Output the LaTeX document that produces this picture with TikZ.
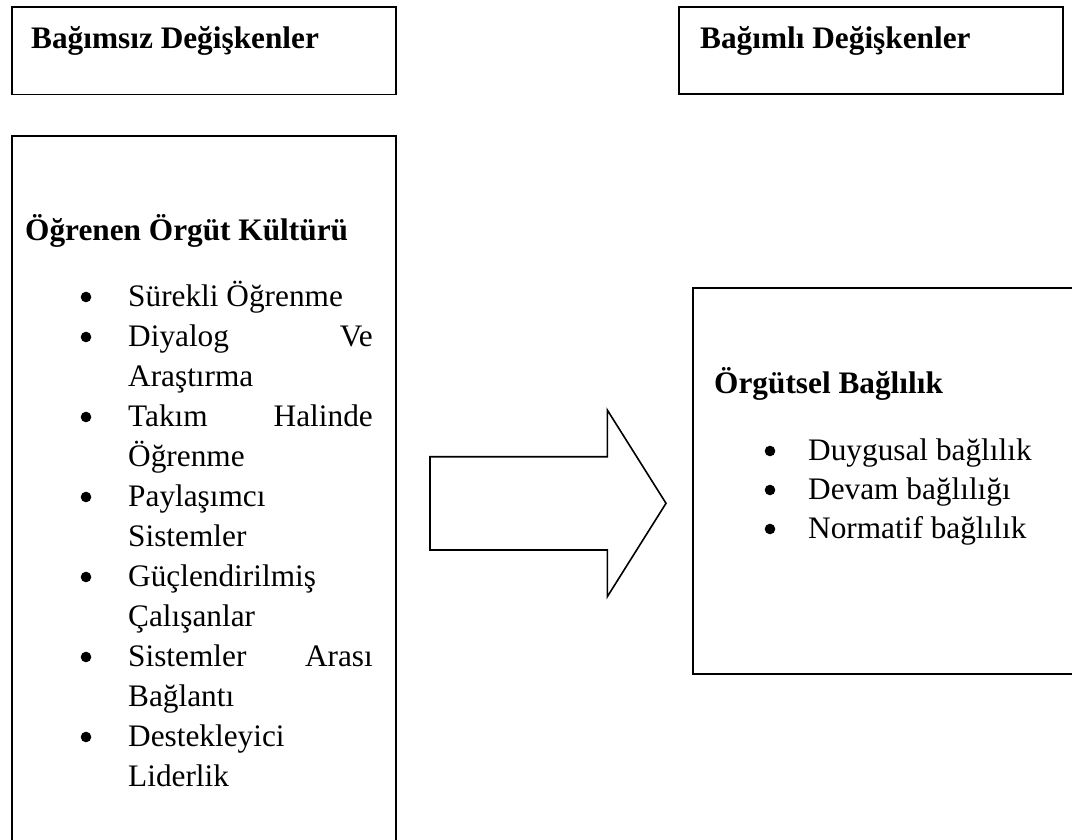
\documentclass[tikz,border=0pt]{standalone}
\usepackage{fontspec}
\setmainfont{Liberation Serif}
\begin{document}
\begin{tikzpicture}[x=1pt,y=-1pt,
  frame/.style={draw=black,line width=1.6pt,inner sep=0pt,anchor=north west},
  txt/.style={inner sep=0pt,anchor=base west,font=\fontsize{31.3}{40}\selectfont},
  txtr/.style={txt,anchor=base east},
  head/.style={txt,font=\fontsize{31.3}{40}\selectfont\bfseries},
  dot/.style={circle,fill=black,inner sep=0pt,minimum size=10.6pt},
  blockarrow/.style={draw=black,line width=1.6pt,line join=miter,fill=white}]
\clip (0,0) rectangle (1072,839);
\fill[white] (0,0) rectangle (1072,839);

% frames
\node[frame,minimum width=384,minimum height=87.5] (indep) at (11,6) {};
\node[frame,minimum width=384,minimum height=87] (dep) at (678,6) {};
\node[frame,minimum width=384,minimum height=725] (culture) at (11,135) {};
\node[frame,minimum width=393,minimum height=386] (commit) at (692,287) {};

% headings
\node[head] (hIndep) at (31,48) {Bağımsız Değişkenler};
\node[head] (hDep) at (700,48) {Bağımlı Değişkenler};
\node[head] (hCulture) at (25,240) {Öğrenen Örgüt Kültürü};
\node[head] (hCommit) at (714,393) {Örgütsel Bağlılık};

% learning organisation culture items (bullet centres sit 9pt above the baseline)
\node[dot] (b1) at (86,297) {};
\node[txt] (i1) at (128,306) {Sürekli Öğrenme};
\node[dot] (b2) at (86,337) {};
\node[txt] (i2a) at (128,346) {Diyalog};
\node[txtr] (i2b) at (373,346) {Ve};
\node[txt] (i2c) at (128,386) {Araştırma};
\node[dot] (b3) at (86,417) {};
\node[txt] (i3a) at (128,426) {Takım};
\node[txtr] (i3b) at (373,426) {Halinde};
\node[txt] (i3c) at (128,466) {Öğrenme};
\node[dot] (b4) at (86,497) {};
\node[txt] (i4a) at (128,506) {Paylaşımcı};
\node[txt] (i4b) at (128,546) {Sistemler};
\node[dot] (b5) at (86,577) {};
\node[txt] (i5a) at (128,586) {Güçlendirilmiş};
\node[txt] (i5b) at (128,626) {Çalışanlar};
\node[dot] (b6) at (86,657) {};
\node[txt] (i6a) at (128,666) {Sistemler};
\node[txtr] (i6b) at (373,666) {Arası};
\node[txt] (i6c) at (128,706) {Bağlantı};
\node[dot] (b7) at (86,737) {};
\node[txt] (i7a) at (128,746) {Destekleyici};
\node[txt] (i7b) at (128,786) {Liderlik};

% commitment items
\node[dot] (c1) at (770,451) {};
\node[txt] (j1) at (808,460) {Duygusal bağlılık};
\node[dot] (c2) at (770,490) {};
\node[txt] (j2) at (808,499) {Devam bağlılığı};
\node[dot] (c3) at (770,529) {};
\node[txt] (j3) at (808,538) {Normatif bağlılık};

% block arrow between the two groups
\draw[blockarrow] (430,456.7) -- (607.3,456.7) -- (607.3,410) -- (666,503.3)
  -- (607.3,596.7) -- (607.3,550) -- (430,550) -- cycle;
\end{tikzpicture}
\end{document}
